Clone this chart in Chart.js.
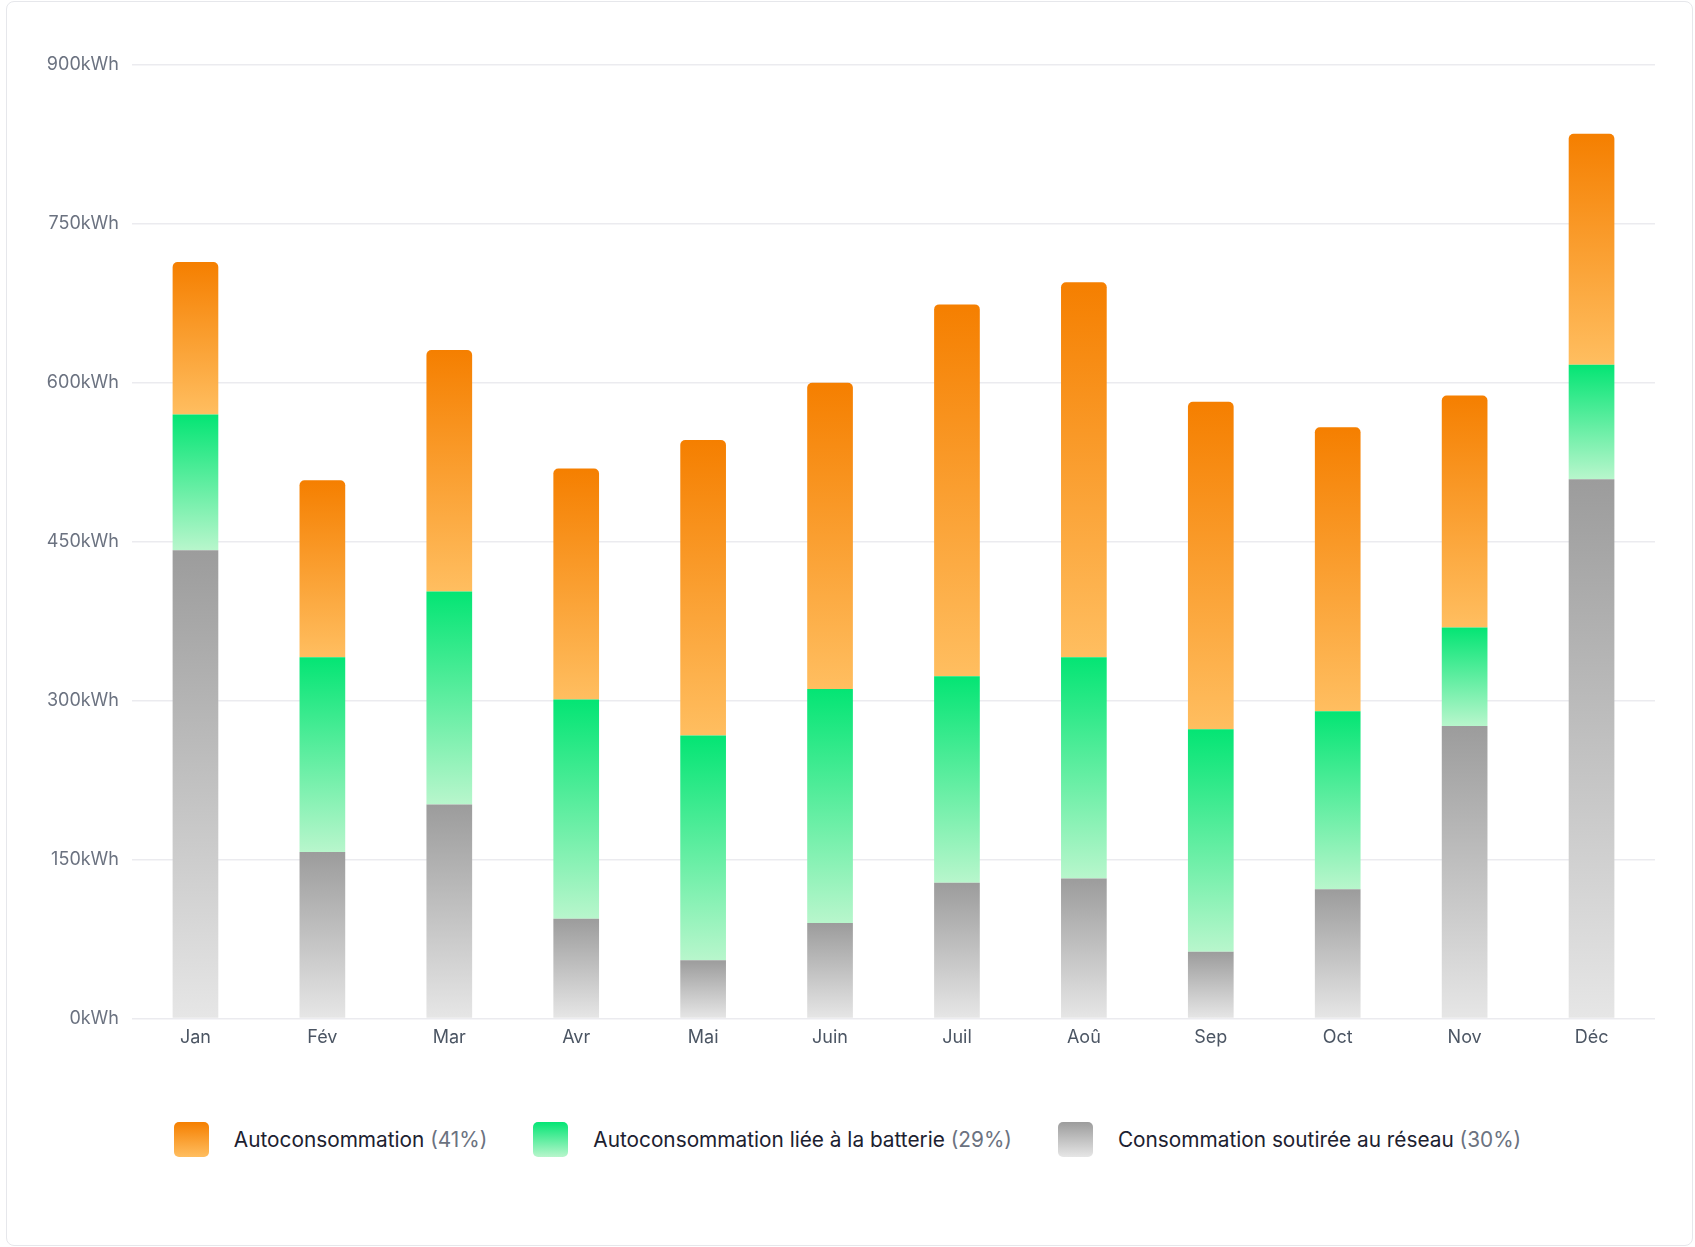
<!DOCTYPE html>
<html lang="fr">
<head>
<meta charset="utf-8">
<title>Consommation mensuelle</title>
<script src="https://cdn.jsdelivr.net/npm/chart.js@4.4.0/dist/chart.umd.min.js"></script>
<style>
  html, body { margin: 0; padding: 0; background: #fff; }
  body { width: 1695px; height: 1247px; position: relative; overflow: hidden; font-family: Inter, "Noto Sans", sans-serif; }
  .card { position: absolute; left: 6px; top: 1px; width: 1685px; height: 1243px; border: 1px solid #e6e7eb; border-radius: 8px; background: #fff; }
  #chartBox { position: absolute; left: 0; top: 0; width: 1695px; height: 1048px; }
  #legend { position: absolute; left: 0; top: 1122px; width: 1695px; display: flex; justify-content: center; align-items: center; }
  .item { display: flex; align-items: center; margin: 0 23px; }
  .swatch { width: 35px; height: 35px; border-radius: 5px; margin-right: 25px; }
  .label { font-size: 20.8px; color: #1c2130; white-space: nowrap; }
  .pct { color: #6b7280; }
</style>
</head>
<body>
<div class="card"></div>
<div id="chartBox"><canvas id="energyChart"></canvas></div>
<div id="legend"></div>
<script>
// monthly values in kWh
const months = ["Jan", "Fév", "Mar", "Avr", "Mai", "Juin", "Juil", "Aoû", "Sep", "Oct", "Nov", "Déc"];
const gridUse    = [442, 157, 202, 94, 55, 90, 128, 132, 63, 122, 276, 509];   // consommation soutirée au réseau
const batteryUse = [128, 184, 201, 207, 212, 221, 195, 209, 210, 168, 93, 108]; // autoconsommation batterie
const selfUse    = [144, 167, 228, 218, 279, 289, 351, 354, 309, 268, 219, 218]; // autoconsommation directe
const seriesNames = ["Autoconsommation", "Autoconsommation liée à la batterie", "Consommation soutirée au réseau"];
const seriesShares = ["41%", "29%", "30%"];
const yTicks = [0, 150, 300, 450, 600, 750, 900];

// top / bottom colours of each segment gradient
const orangeStops = ["#f57f00", "#ffbe60"];
const greenStops  = ["#04e574", "#b8f6cc"];
const greyStops   = ["#9c9c9c", "#e6e6e6"];

const stackOrder = [gridUse, batteryUse, selfUse];

function segmentFill(level, stops) {
    return function (c) {
        const chart = c.chart;
        if (c.type !== 'data' || !chart.chartArea) return stops[0];
        const i = c.dataIndex;
        let base = 0;
        for (let k = 0; k < level; k++) base += stackOrder[k][i];
        const top = base + stackOrder[level][i];
        const y = chart.scales.y;
        const g = chart.ctx.createLinearGradient(0, y.getPixelForValue(top), 0, y.getPixelForValue(base));
        g.addColorStop(0, stops[0]);
        g.addColorStop(1, stops[1]);
        return g;
    };
}

const energyChart = new Chart(document.getElementById('energyChart'), {
    type: 'bar',
    data: {
        labels: months,
        datasets: [
            { label: seriesNames[2], data: gridUse, backgroundColor: segmentFill(0, greyStops) },
            { label: seriesNames[1], data: batteryUse, backgroundColor: segmentFill(1, greenStops) },
            { label: seriesNames[0], data: selfUse, backgroundColor: segmentFill(2, orangeStops) }
        ]
    },
    options: {
        responsive: true,
        maintainAspectRatio: false,
        animation: false,
        layout: { padding: { top: 65, right: 40, left: 0, bottom: 0 } },
        datasets: {
            bar: { barPercentage: 0.36, categoryPercentage: 1, borderRadius: 5, borderWidth: 0 }
        },
        plugins: {
            legend: { display: false },
            tooltip: { enabled: false }
        },
        scales: {
            x: {
                stacked: true,
                grid: { display: false },
                border: { display: false },
                ticks: { color: '#4b5563', font: { family: 'Inter', size: 18 }, padding: 0 }
            },
            y: {
                stacked: true,
                min: 0,
                max: 900,
                afterBuildTicks: (axis) => { axis.ticks = yTicks.map(v => ({ value: v })); },
                afterFit: (axis) => { axis.width = 132; },
                grid: { color: '#ebebef', lineWidth: 1.5, drawTicks: false },
                border: { display: false },
                ticks: {
                    color: '#6b7280',
                    font: { family: 'Inter', size: 18 },
                    padding: 13,
                    callback: (v) => v + 'kWh'
                }
            }
        }
    }
});

// html legend: name in dark, share in grey
const legendBox = document.getElementById('legend');
const swatchStops = [orangeStops, greenStops, greyStops];
seriesNames.forEach((name, i) => {
    const item = document.createElement('div');
    item.className = 'item';
    const sw = document.createElement('div');
    sw.className = 'swatch';
    sw.style.background = `linear-gradient(${swatchStops[i][0]}, ${swatchStops[i][1]})`;
    const txt = document.createElement('span');
    txt.className = 'label';
    txt.innerHTML = name + ' <span class="pct">(' + seriesShares[i] + ')</span>';
    item.appendChild(sw);
    item.appendChild(txt);
    legendBox.appendChild(item);
});
</script>
</body>
</html>
